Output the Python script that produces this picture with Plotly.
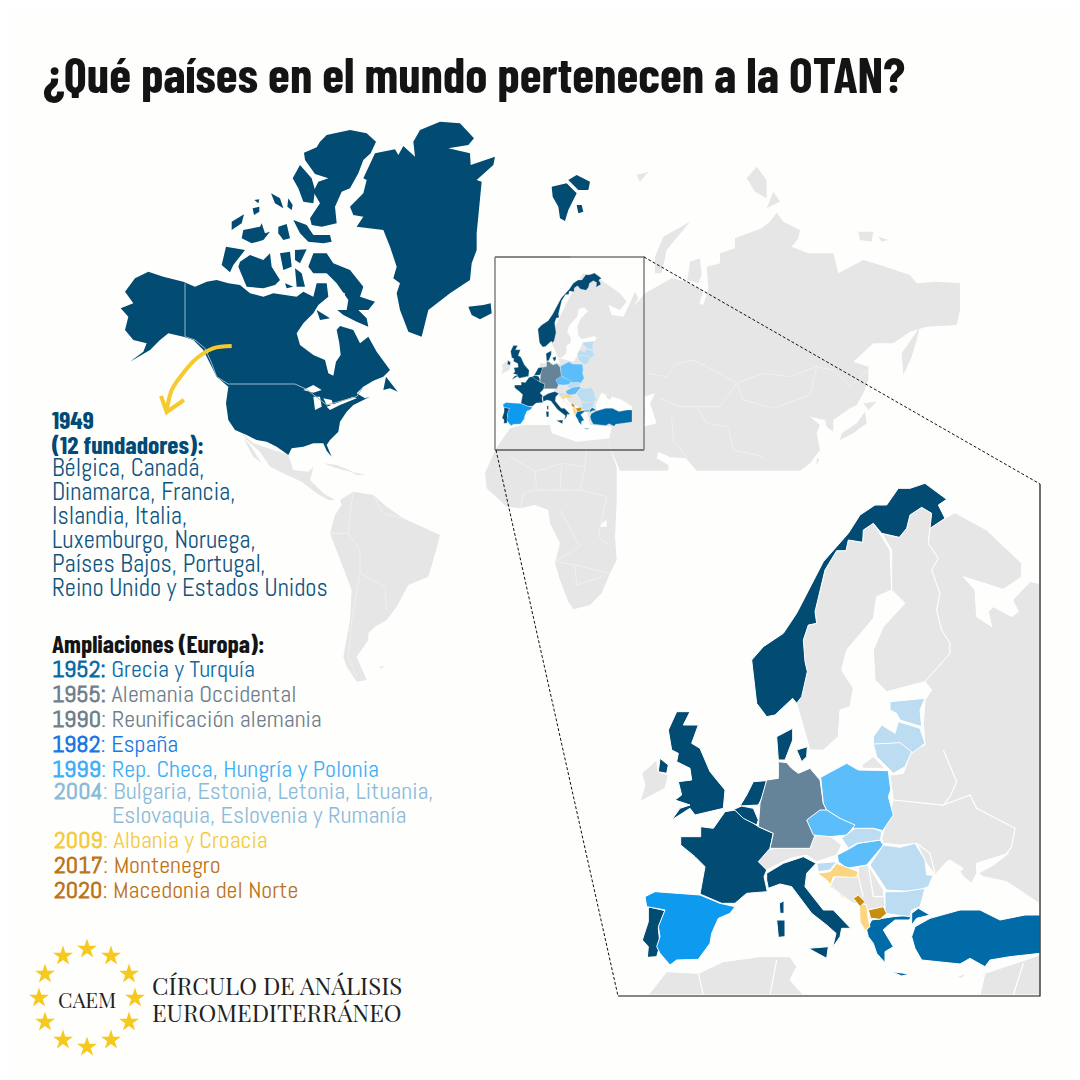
import plotly.graph_objects as go

# Map outlines, traced by hand from 3x crops of the picture.
# Each crop has its own origin, see the frames below.
NA = (100, 110)     # north america crop
ASIA = (480, 150)   # eurasia crop
NORTH = (610, 480)  # inset, top half
SOUTH = (610, 740)  # inset, bottom half
LEFT = (40, 400)    # south america crop
AFR = (240, 430)    # africa crop

# --- North Atlantic members
north_america = [(145,485),(190,500),(250,515),(285,530),(320,515),(350,510),(385,520),(420,525),(450,550),(490,560),(520,550),(560,555),(590,560),(610,545),(640,560),(650,520),(680,520),(685,560),(655,585),(640,610),(610,640),(590,670),(600,705),(640,735),(675,750),(685,790),(700,797),(708,755),(722,735),(718,700),(710,660),(720,648),(760,660),(780,700),(805,680),(830,725),(870,780),(850,800),(820,812),(790,830),(770,850),(795,865),(810,860),(760,885),(740,905),(720,935),(715,965),(690,990),(680,1005),(695,1040),(680,1022),(670,1000),(640,1000),(610,1010),(575,1015),(565,1035),(530,1010),(500,995),(470,990),(440,975),(405,960),(385,930),(378,880),(385,830),(350,800),(320,740),(310,720),(280,690),(250,680),(205,670),(180,690),(150,720),(90,755),(130,725),(140,700),(100,690),(75,660),(85,620),(62,595),(100,580),(75,545),(105,505)]
newfoundland = [(858,800),(893,845),(870,835),(850,840)]
southampton = [(650,600),(690,625),(660,630)]
baffin = [(625,470),(640,430),(680,430),(700,460),(750,480),(790,530),(780,560),(825,575),(805,600),(775,600),(800,625),(805,650),(770,635),(730,615),(712,600),(740,600),(745,570),(710,520),(680,490),(640,490)]
ellesmere = [(680,75),(750,60),(800,70),(828,95),(812,130),(790,150),(775,190),(750,235),(725,245),(705,290),(710,340),(665,350),(635,345),(630,325),(660,280),(640,245),(655,215),(685,205),(645,192),(615,150),(612,128),(650,112),(660,95)]
axel_heiberg = [(600,165),(635,205),(645,240),(640,280),(610,275),(595,235),(578,205)]
devon = [(580,330),(620,345),(640,375),(690,375),(695,395),(670,400),(625,395),(600,370)]
arctic_small = [
    [(513,250),(540,265),(550,295),(525,280)],
    [(565,265),(578,285),(575,300),(562,290)],
    [(458,295),(478,290),(478,305),(462,315)],
    [(463,270),(478,268),(475,280)],
    [(395,335),(432,313),(425,340),(395,360)],
    [(430,360),(480,350),(485,340),(495,370),(510,365),(490,390),(455,400),(425,385)],
    [(535,350),(560,342),(570,385),(550,390),(535,370)],
    [(378,410),(435,420),(400,465),(390,487),(365,465)],
    [(420,455),(450,435),(490,450),(510,430),(515,470),(540,510),(525,525),(490,535),(440,530),(430,505),(415,470)],
    [(540,430),(570,425),(575,470),(550,480)],
    [(585,420),(620,418),(600,460),(585,450)],
    [(585,475),(605,490),(615,530),(590,530)],
    [(555,520),(580,530),(560,535)],
]
greenland = [(1020,35),(1080,40),(1122,85),(1105,105),(1045,115),(1110,130),(1112,165),(1185,140),(1180,165),(1130,210),(1145,215),(1135,330),(1130,370),(1130,420),(1115,460),(1110,510),(1050,550),(985,600),(965,680),(925,665),(900,600),(890,550),(900,520),(880,505),(890,470),(870,410),(850,360),(770,350),(790,320),(760,315),(750,290),(790,250),(800,210),(790,205),(825,130),(885,118),(895,135),(910,108),(945,140),(940,95),(960,60)]
iceland = [(1105,590),(1150,585),(1172,580),(1175,610),(1140,628),(1115,615)]
great_lakes = [
    [(610,840),(640,825),(665,840),(640,848)],
    [(640,860),(660,860),(665,890),(645,900)],
    [(670,865),(695,870),(700,885),(680,885)],
    [(680,890),(720,875),(760,860),(770,865),(720,885),(690,900)],
]
baffin_lake = [(718,545),(735,550),(730,570),(718,565)]
us_canada_border = [(255,520),(255,680),(285,690),(315,715),(335,760),(350,800),(385,822),(585,822),(620,838),(680,885),(770,860),(790,830)]

svalbard = [
    [(215,110),(260,100),(290,130),(265,180),(255,213),(240,205),(235,170),(218,140)],
    [(265,90),(290,75),(330,95),(325,120),(295,120)],
    [(290,165),(305,165),(310,185),(295,190)],
]

# --- Grey world
eurasia = [(310,370),(355,385),(420,430),(440,455),(420,480),(385,465),(395,495),(430,500),(445,470),(465,425),(475,445),(460,470),(495,430),(540,405),(575,385),(620,395),(655,415),(672,420),(658,460),(670,465),(685,415),(680,350),(720,340),(720,310),(765,295),(765,265),(845,235),(870,215),(890,188),(910,215),(960,240),(955,265),(935,290),(985,310),(1060,310),(1075,370),(1150,330),(1200,345),(1290,375),(1310,400),(1370,395),(1440,400),(1440,480),(1430,525),(1340,530),(1290,545),(1240,580),(1180,580),(1120,635),(1165,650),(1165,690),(1150,730),(1130,765),(1110,775),(1060,810),(1060,845),(1040,830),(1035,810),(990,800),(1020,825),(1010,850),(1020,900),(990,940),(960,962),(650,962),(618,925),(570,922),(535,905),(530,925),(565,945),(565,962),(420,962),(395,905),(385,880),(395,830),(330,825),(320,780),(270,760),(255,740),(225,725),(215,700),(185,700),(180,640),(240,640),(225,600),(215,580),(230,520),(290,400)]
arctic_grey = [
    [(525,320),(550,260),(630,215),(600,250),(560,300),(545,370),(525,370)],
    [(622,390),(630,335),(660,325),(665,375),(655,400)],
    [(800,85),(830,50),(860,90),(860,145),(825,125)],
    [(860,175),(880,125),(900,155)],
    [(1135,245),(1180,245),(1175,275),(1140,270)],
    [(1195,260),(1225,270),(1205,275)],
    [(470,75),(505,65),(480,95)],
    [(1265,610),(1320,530),(1310,570),(1295,620),(1270,675)],
    [(1150,760),(1190,755),(1165,780)],
    [(1155,785),(1160,820),(1120,850),(1080,870),(1085,850),(1130,820)],
    [(1010,925),(1018,928),(1010,945)],
]
caspian = [(490,740),(525,730),(510,760),(530,820),(490,830),(495,790)]
asia_borders = [
    [(500,670),(560,680),(590,640),(640,630),(700,660),(770,700),(850,670),(930,680),(1010,650),(1060,660),(1110,710),(1165,660)],
    [(770,700),(790,750),(880,775),(990,735),(1010,650)],
    [(770,700),(720,770),(650,770),(600,770),(540,745)],
    [(650,770),(680,820),(745,830),(760,900),(850,920)],
    [(575,800),(580,870),(620,920)],
]
africa = [(765,60),(810,-5),(850,-15),(930,-15),(935,10),(1010,35),(1110,25),(1105,40),(1130,110),(1130,220),(1125,320),(1130,390),(1110,430),(1085,490),(1050,525),(1000,538),(985,515),(960,450),(945,400),(960,340),(930,280),(925,240),(885,225),(840,235),(800,230),(740,175),(735,130)]
africa_lake = [(1085,280),(1100,270),(1100,290),(1080,290)]
africa_borders = [
    [(810,80),(885,125),(965,100),(1035,110),(1040,55)],
    [(885,125),(890,180),(960,180),(965,100)],
    [(960,180),(1020,180),(1035,110)],
    [(1020,180),(1100,200),(1075,320),(1105,345)],
    [(960,240),(1020,350),(945,395),(1005,405),(1110,430)],
    [(1005,405),(1010,465),(1085,440)],
    [(840,235),(850,190),(885,180)],
]
south_america = [(900,300),(940,275),(1000,285),(1040,320),(1090,355),(1200,405),(1190,445),(1165,530),(1105,555),(1070,620),(1040,660),(1005,680),(985,700),(985,720),(950,770),(980,840),(950,845),(920,800),(910,770),(930,660),(935,570),(900,480),(870,400),(885,345),(905,315)]
falklands = [(1015,800),(1035,798),(1025,805)]
sa_borders = [
    [(940,275),(930,340),(925,400),(960,450),(960,520),(1035,560),(1040,630)],
    [(870,400),(925,400)],
    [(960,520),(945,600),(935,660),(925,770),(950,830)],
    [(1000,285),(1030,340),(1090,355)],
]
central_america = [(605,100),(640,130),(745,165),(760,210),(805,215),(820,200),(810,240),(850,280),(885,300),(865,300),(830,280),(785,245),(720,215),(690,200),(660,155),(620,120)]
baja = [(610,115),(630,135),(665,190),(640,170)]
cuba = [(850,190),(890,195),(950,220),(890,205)]
hispaniola = [(935,215),(975,225),(950,225)]

# --- Inset Europe, NORTH frame
norway = [(425,540),(460,500),(520,460),(560,400),(640,245),(715,160),(750,105),(795,75),(830,75),(865,25),(900,25),(945,10),(1010,58),(985,75),(1005,115),(960,145),(965,100),(935,82),(900,105),(890,145),(868,172),(815,160),(790,130),(760,150),(758,187),(715,180),(708,212),(680,212),(645,270),(615,395),(620,430),(595,435),(580,480),(585,545),(592,575),(575,650),(560,670),(548,655),(495,705),(470,710),(440,670)]
sweden = [(560,670),(580,545),(580,480),(595,435),(620,430),(615,395),(645,270),(680,212),(708,212),(715,180),(758,187),(760,150),(790,130),(840,210),(845,330),(800,350),(790,415),(710,510),(695,570),(730,625),(720,680),(690,690),(685,770),(640,810),(600,810)]
finland = [(815,160),(868,172),(890,145),(900,105),(935,82),(965,100),(955,190),(985,235),(965,270),(990,340),(980,390),(995,450),(1020,490),(1020,520),(945,605),(830,635),(795,600),(790,510),(820,440),(885,370),(845,330),(845,210)]
russia_west = [(960,145),(1005,115),(1035,98),(1130,150),(1235,250),(1235,290),(1180,328),(1060,290),(1095,330),(1100,410),(1145,440),(1135,395),(1150,380),(1205,410),(1225,395),(1208,360),(1260,305),(1288,310),(1288,1270),(1250,1245),(1190,1205),(1120,1190),(1105,1180),(1150,1155),(1195,1120),(1100,1150),(1100,1180),(1085,1210),(1060,1190),(1050,1175),(1060,1165),(1020,1140),(1010,1145),(975,1185),(950,1150),(920,1090),(870,1095),(820,1090),(815,1075),(850,960),(840,885),(880,880),(905,810),(945,795),(940,730),(945,660),(965,630),(945,605),(1020,520),(1020,490),(995,450),(980,390),(990,340),(965,270),(985,235),(955,190)]
estonia = [(840,665),(945,655),(930,690),(935,740),(870,720),(860,700),(840,690)]
latvia = [(790,770),(815,735),(855,760),(865,725),(930,745),(945,790),(905,820),(870,790),(790,795)]
baltic_sea = [(850,335),(885,370),(820,440),(790,510),(795,600),(830,635),(945,605),(965,630),(945,660),(840,665),(790,770),(790,795),(750,850),(600,810),(640,810),(685,770),(690,690),(720,680),(730,625),(695,570),(710,510),(790,415),(800,350)]

# --- Inset Europe, SOUTH frame
uk = [(200,-85),(240,-85),(220,-45),(265,-45),(245,10),(270,25),(300,95),(345,150),(340,205),(255,225),(240,205),(185,240),(210,205),(240,195),(195,180),(215,165),(205,125),(245,120),(240,85),(200,65),(205,40),(185,30),(175,-30)]
n_ireland = [(150,55),(175,75),(170,100),(145,95)]
ireland = [(95,100),(140,60),(145,95),(175,105),(165,145),(90,185),(105,135)]
france = [(345,215),(375,210),(445,260),(490,280),(480,325),(445,365),(470,390),(462,410),(472,455),(410,460),(375,490),(335,490),(270,462),(285,380),(255,350),(212,315),(212,290),(272,290),(272,260),(310,265)]
corsica = [(508,490),(522,482),(522,520),(510,520)]
portugal = [(115,500),(165,512),(145,565),(150,615),(140,650),(112,652),(115,620),(97,600),(115,545)]
italy = [(470,400),(520,370),(580,350),(618,370),(590,400),(585,440),(640,510),(670,510),(722,565),(695,565),(690,590),(668,622),(678,580),(650,555),(605,520),(545,440),(510,432),(475,445),(470,420)]
sardinia = [(500,540),(525,540),(525,590),(505,592)]
sicily = [(595,625),(655,620),(650,655)]
netherlands = [(430,125),(470,122),(465,155),(445,195),(390,198),(410,165)]
belgium = [(372,208),(395,198),(430,205),(445,240),(440,255),(400,235)]
denmark = [(500,-10),(548,-35),(548,0),(525,60),(505,60)]
zealand = [(560,30),(592,20),(590,50),(575,65)]
greece = [(770,570),(785,540),(850,530),(905,525),(898,540),(855,540),(830,560),(820,570),(850,620),(825,635),(825,668),(800,640),(790,610),(775,590)]
crete = [(845,695),(900,702),(875,708)]
thrace = [(905,520),(925,505),(960,525),(920,535),(905,555)]
turkey = [(905,590),(915,560),(960,535),(1050,510),(1110,510),(1170,540),(1245,525),(1290,525),(1290,640),(1200,650),(1140,660),(1125,680),(1080,655),(1050,672),(935,660),(915,625)]
germany = [(505,65),(530,68),(545,85),(565,100),(600,85),(630,120),(640,190),(650,210),(600,240),(615,285),(600,325),(480,325),(490,280),(445,260),(450,190),(470,120),(505,115)]
spain = [(105,470),(135,455),(270,465),(330,490),(375,500),(360,520),(325,535),(305,580),(300,610),(265,658),(200,660),(180,675),(150,640),(140,620),(150,590),(145,560),(165,510),(110,500)]
poland = [(632,112),(710,70),(745,90),(835,92),(842,150),(835,170),(850,225),(818,272),(790,265),(745,275),(720,255),(690,235),(650,210),(640,190)]
czechia = [(590,240),(630,210),(650,210),(690,235),(735,255),(710,285),(660,290),(610,285)]
hungary = [(682,345),(715,328),(745,310),(810,300),(820,315),(790,350),(770,375),(710,385),(685,365)]
lithuania = [(790,12),(870,8),(905,35),(885,80),(850,100),(825,75),(800,50)]
slovakia = [(695,295),(735,265),(790,265),(815,275),(812,300),(740,310),(715,325)]
slovenia = [(620,370),(680,365),(660,390),(625,395)]
romania = [(780,375),(820,315),(870,322),(915,310),(945,360),(950,405),(970,405),(955,440),(915,455),(830,450)]
bulgaria = [(825,455),(880,455),(945,445),(930,500),(905,510),(900,530),(860,525),(825,520)]
croatia = [(622,400),(660,395),(680,370),(745,395),(740,412),(670,410),(660,440),(730,490),(695,470),(650,420)]
albania = [(748,490),(770,495),(775,540),(780,560),(765,572),(750,545)]
montenegro = [(730,475),(745,465),(765,485),(750,500)]
macedonia = [(775,510),(820,500),(830,520),(810,538),(782,535)]
alps = [(445,365),(470,330),(520,320),(590,325),(610,290),(650,280),(695,315),(680,345),(620,365),(590,345),(540,355),(510,370),(470,390)]
balkans = [(675,410),(745,410),(745,380),(775,375),(820,450),(825,500),(770,510),(755,490),(730,490),(660,440)]
kaliningrad = [(755,75),(790,50),(825,85),(760,85)]
north_africa = [(115,765),(170,695),(265,700),(340,665),(450,650),(540,650),(560,680),(540,720),(580,765)]
levant = [(1290,645),(1290,765),(1110,765),(1125,700)]
cyprus = [(1040,710),(1070,700),(1055,715)]
black_sea = [(960,470),(1010,360),(1060,385),(1050,395),(1060,410),(1085,430),(1105,400),(1190,425),(1250,465),(1290,490),(1290,525),(1245,525),(1170,540),(1110,510),(1050,510),(960,535)]
east_borders = [
    [(1000,30),(1040,125),(1020,170),(1000,195),(850,180)],
    [(1000,195),(1080,165),(1100,205),(1215,265),(1205,320),(1190,340)],
    [(920,310),(960,340),(975,400)],
]
inset_africa_borders = [[(265,700),(280,765)], [(500,660),(480,765)], [(1240,670),(1210,765)]]
balkan_borders = [[(745,410),(760,470)], [(775,375),(790,470),(825,470)]]

# Legend text
title_text = "¿Qué países en el mundo pertenecen a la OTAN?"
founder_heading = ["1949", "(12 fundadores):"]
founder_lines = ["Bélgica, Canadá,", "Dinamarca, Francia,", "Islandia, Italia,",
                 "Luxemburgo, Noruega,", "Países Bajos, Portugal,", "Reino Unido y Estados Unidos"]
enlarge_heading = "Ampliaciones (Europa):"
enlarge_years = ["1952:", "1955:", "1990", "1982", "1999", "2004", "", "2009", "2017", "2020"]
enlarge_names = ["Grecia y Turquía", "Alemania Occidental", "Reunificación alemania", "España",
                 "Rep. Checa, Hungría y Polonia", "Bulgaria, Estonia, Letonia, Lituania,",
                 "Eslovaquia, Eslovenia y Rumanía", "Albania y Croacia", "Montenegro", "Macedonia del Norte"]
enlarge_colors = ["#0b6aa5", "#6f7f8c", "#6f7f8c", "#1c78e0", "#41aef5", "#8bbbd9", "#8bbbd9",
                  "#f3cb3e", "#bd7418", "#bd7418"]
enlarge_y = [668, 693, 718, 743, 768, 790, 814, 839, 864, 889]
enlarge_x = [53, 53, 53, 53, 53, 55, 113, 55, 55, 55]

star_x = [87, 111, 129, 135, 129, 111, 87, 63, 45, 39, 45, 63]
star_y = [949, 956, 974, 998, 1022, 1040, 1047, 1040, 1022, 998, 974, 956]

HEAD = "Barlow Condensed, Roboto, sans-serif"
BODY = "Abel, Roboto, sans-serif"
SERIF = "Playfair Display, Liberation Serif, serif"
DARK = "#024b73"
GREY = "#e6e6e6"
WHITE = "#fefefd"
PAGE_MARGIN = 8  # the browser keeps 8px of body margin round the plot


def traced(points, frame):
    # crops are 3x, so divide and move to the crop origin
    return [(frame[0] + p[0] / 3, frame[1] + p[1] / 3) for p in points]


def mini(points):
    # small copy of inset Europe inside the box on the world map
    return [(503 + (p[0] - 645) * 0.3266, 273 + (p[1] - 483) * 0.317) for p in points]


def draw(fig, shapes, color, line="rgba(0,0,0,0)", width=0.0):
    # one trace each, overlapping parts in one trace would punch holes
    for s in shapes:
        fig.add_trace(go.Scatter(x=[p[0] for p in s] + [s[0][0]], y=[p[1] for p in s] + [s[0][1]],
                                 mode="lines", fill="toself", fillcolor=color,
                                 line=dict(color=line, width=width), hoverinfo="skip"))


def lines(fig, shapes, color, width, dash=None, spline=False):
    xs, ys = [], []
    for s in shapes:
        xs += [p[0] for p in s] + [None]
        ys += [p[1] for p in s] + [None]
    fig.add_trace(go.Scatter(x=xs, y=ys, mode="lines", hoverinfo="skip",
                             line=dict(color=color, width=width, dash=dash,
                                       shape="spline" if spline else "linear")))


fig = go.Figure()

# World base
world_grey = [traced(eurasia, ASIA)] + [traced(s, ASIA) for s in arctic_grey]
world_grey += [traced(africa, AFR), traced(south_america, LEFT), traced(falklands, LEFT),
               traced(central_america, LEFT), traced(baja, LEFT), traced(cuba, LEFT), traced(hispaniola, LEFT)]
draw(fig, world_grey, GREY)
draw(fig, [traced(caspian, ASIA), traced(africa_lake, AFR)], WHITE)
lines(fig, [traced(s, ASIA) for s in asia_borders] + [traced(s, AFR) for s in africa_borders]
      + [traced(s, LEFT) for s in sa_borders], "#f0f0f0", 1)

# North America and the other Atlantic members
atlantic = [north_america, newfoundland, southampton, baffin, ellesmere, axel_heiberg, devon,
            greenland, iceland] + arctic_small
draw(fig, [traced(s, NA) for s in atlantic] + [traced(s, ASIA) for s in svalbard], DARK)
draw(fig, [traced(s, NA) for s in great_lakes + [baffin_lake]], WHITE)
lines(fig, [traced(us_canada_border, NA)], "#9fb6c6", 1)

# Colour groups of inset Europe: (north frame shapes, south frame shapes, colour)
grey_north = [sweden, finland, russia_west]
grey_south = [ireland, alps, balkans, kaliningrad, north_africa, levant, cyprus]
member_groups = [
    ([norway], [uk, n_ireland, france, corsica, portugal, italy, sardinia, sicily, netherlands,
                belgium, denmark, zealand], DARK),
    ([], [greece, crete, thrace, turkey], "#016ba8"),
    ([], [germany], "#65849a"),
    ([], [spain], "#0e9bef"),
    ([], [poland, czechia, hungary], "#5bbefb"),
    ([estonia, latvia], [lithuania, slovakia, slovenia, romania, bulgaria], "#bcdcf2"),
    ([], [croatia, albania], "#fcd581"),
    ([], [montenegro, macedonia], "#c88f0f"),
]

# Small copy on the world map
draw(fig, [mini(traced(baltic_sea, NORTH)), mini(traced(black_sea, SOUTH))], WHITE)
draw(fig, [mini(traced(s, SOUTH)) for s in [ireland]], GREY)
for north_shapes, south_shapes, color in member_groups:
    draw(fig, [mini(traced(s, NORTH)) for s in north_shapes] + [mini(traced(s, SOUTH)) for s in south_shapes],
         color, "#f4f4f4", 0.3)

# Big inset
draw(fig, [traced(s, NORTH) for s in grey_north] + [traced(s, SOUTH) for s in grey_south], GREY, "#ffffff", 1)
lines(fig, [traced(s, SOUTH) for s in east_borders + inset_africa_borders + balkan_borders], "#ffffff", 1.2)
for north_shapes, south_shapes, color in member_groups:
    draw(fig, [traced(s, NORTH) for s in north_shapes] + [traced(s, SOUTH) for s in south_shapes],
         color, "#ffffff", 1)

# Zoom box and the lines running to the inset
lines(fig, [[(495, 257), (570, 257)], [(495, 450), (644, 450)], [(1040, 484), (1040, 996), (618, 996)]], "#111111", 1.2)
lines(fig, [[(570, 257), (644, 257), (644, 450)], [(495, 257), (495, 450)]], "#777777", 1.4)
lines(fig, [[(644, 257), (1040, 484)], [(496, 450), (618, 996)]], "#111111", 1, dash="3px,2px")

# Yellow arrow
arrow = [(231.7, 346), (213, 348.3), (196.7, 358.3), (181.7, 375), (171.7, 390), (166.7, 411)]
arrow_head = [(161, 396), (166.7, 412), (184, 400)]
lines(fig, [arrow], "#f5ca2c", 4, spline=True)
lines(fig, [arrow_head], "#f5ca2c", 4)

# Stars of the logo
fig.add_trace(go.Scatter(x=star_x, y=star_y, mode="markers", hoverinfo="skip",
                         marker=dict(symbol="star", size=15, color="#f6c91f", line=dict(width=0))))


def label(x, y, text, color, size, family=BODY):
    # annotations keep about 3px of padding on the left
    fig.add_annotation(x=x - 3, y=y, text=text, showarrow=False, xanchor="left", yanchor="middle",
                       font=dict(family=family, size=size, color=color), xref="x", yref="y")


label(44, 73, f"<b>{title_text}</b>", "#141414", 50, HEAD)
for y, line in zip([418, 443], founder_heading):
    label(53, y, f"<b>{line}</b>", "#004a74", 25.5, HEAD)
for y, line in zip([467, 491, 515, 539, 563, 587], founder_lines):
    label(53, y, line, "#0e5580", 24.5)
label(53, 643, f"<b>{enlarge_heading}</b>", "#141414", 25, HEAD)
for x, y, year, name, color in zip(enlarge_x, enlarge_y, enlarge_years, enlarge_names, enlarge_colors):
    year_part = ""
    if year:
        # years without colon in the list get a plain one after the bold number
        year_part = f"<b>{year}</b> " if year.endswith(":") else f"<b>{year}</b>: "
    label(x, y, year_part + name, color, 24)

fig.add_annotation(x=87, y=999, text="CAEM", showarrow=False, font=dict(family=SERIF, size=21, color="#222222"))
label(153, 985, "CÍRCULO DE ANÁLISIS", "#222222", 24, SERIF)
label(153, 1012, "EUROMEDITERRÁNEO", "#222222", 24, SERIF)

fig.update_layout(
    width=1080 - PAGE_MARGIN, height=1080 - PAGE_MARGIN, margin=dict(l=0, r=0, t=0, b=0), showlegend=False,
    paper_bgcolor=WHITE, plot_bgcolor=WHITE,
    xaxis=dict(range=[PAGE_MARGIN, 1080], visible=False, fixedrange=True),
    yaxis=dict(range=[1080, PAGE_MARGIN], visible=False, fixedrange=True),
)

fig.write_html("out.html")
